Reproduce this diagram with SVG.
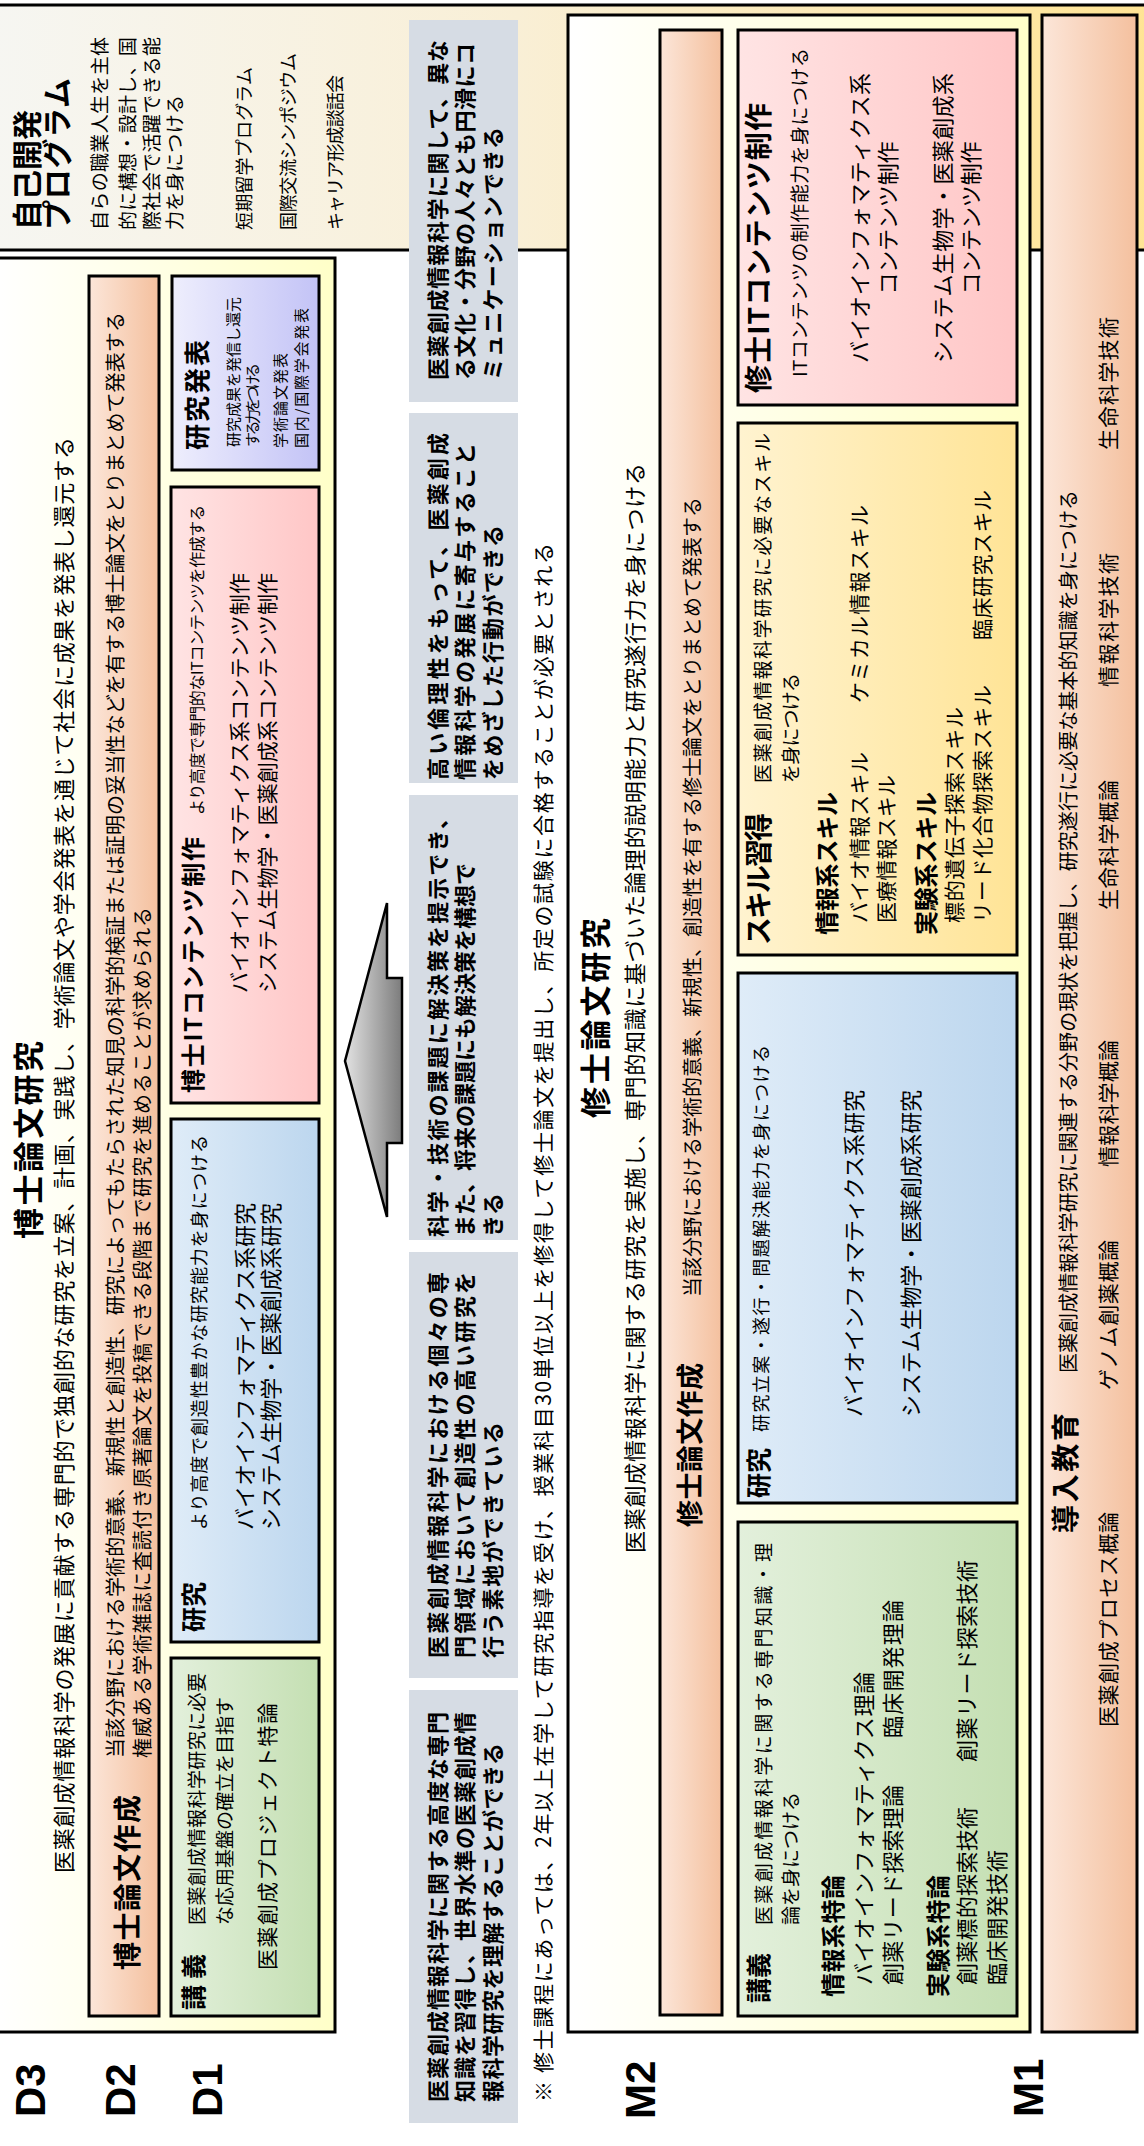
<svg xmlns="http://www.w3.org/2000/svg" width="1144" height="2146" viewBox="0 0 1144 2146">
<defs>
<linearGradient id="gOuter" x1="0" y1="0" x2="0" y2="1"><stop offset="0" stop-color="#FFFFFF"/><stop offset="1" stop-color="#FFFFC8"/></linearGradient>
<linearGradient id="gSelf" x1="0" y1="0" x2="0" y2="1"><stop offset="0" stop-color="#F6F6F2"/><stop offset="0.45" stop-color="#F9EFD6"/><stop offset="1" stop-color="#FFE494"/></linearGradient>
<linearGradient id="gOrange" x1="0" y1="0" x2="0" y2="1"><stop offset="0" stop-color="#FCE6D9"/><stop offset="1" stop-color="#F4C09E"/></linearGradient>
<linearGradient id="gGreen" x1="0" y1="0" x2="0" y2="1"><stop offset="0" stop-color="#E3F0DC"/><stop offset="1" stop-color="#C4DFB2"/></linearGradient>
<linearGradient id="gBlue" x1="0" y1="0" x2="0" y2="1"><stop offset="0" stop-color="#DFECF8"/><stop offset="1" stop-color="#BCD6EE"/></linearGradient>
<linearGradient id="gPink" x1="0" y1="0" x2="0" y2="1"><stop offset="0" stop-color="#FFE4E4"/><stop offset="1" stop-color="#FFC6C6"/></linearGradient>
<linearGradient id="gLav" x1="0" y1="0" x2="0" y2="1"><stop offset="0" stop-color="#EEEEFD"/><stop offset="1" stop-color="#C3C3F6"/></linearGradient>
<linearGradient id="gYellow" x1="0" y1="0" x2="0" y2="1"><stop offset="0" stop-color="#FFF3D0"/><stop offset="1" stop-color="#FFE496"/></linearGradient>
<linearGradient id="gArrow" x1="0" y1="0" x2="0" y2="1"><stop offset="0" stop-color="#E2E2E2"/><stop offset="1" stop-color="#7C7C7C"/></linearGradient>
<style>
.bx{stroke:#000;stroke-width:3}
.gr{fill:#D6DCE4}
text{font-family:"Noto Sans CJK JP","Noto Sans CJK SC",sans-serif;fill:#000}
.h{font-weight:bold}
.lab{font-family:"Liberation Sans",Arial,sans-serif;font-weight:bold;font-size:42px}
.s15{font-size:15px}.s16{font-size:16px}.s18{font-size:18px}.s19{font-size:19px}.s20{font-size:20px}.s21{font-size:21px}.s22{font-size:22px}
.gt{font-size:22px;font-weight:bold}
</style>
</defs>
<rect width="1144" height="2146" fill="#FFFFFF"/>
<g transform="translate(0,2146) rotate(-90)">

<g id="self-dev">
<rect class="bx" x="1896" y="-5" width="245" height="1160" fill="url(#gSelf)"/>
<text class="h" x="1916" y="38" font-size="30" textLength="120">自己開発</text>
<text class="h" x="1916" y="68" font-size="30" textLength="152">プログラム</text>
<text class="s19" x="1916" y="107" textLength="193">自らの職業人生を主体</text>
<text class="s19" x="1916" y="135" textLength="193">的に構想・設計し、国</text>
<text class="s19" x="1916" y="159" textLength="193">際社会で活躍できる能</text>
<text class="s19" x="1916" y="182" textLength="135">力を身につける</text>
<text class="s18" x="1916" y="251" textLength="163">短期留学プログラム</text>
<text class="s18" x="1916" y="295" textLength="177">国際交流シンポジウム</text>
<text class="s18" x="1916" y="342" textLength="155">キャリア形成談話会</text>
</g>

<g id="d3">
<rect class="bx" x="114" y="-5" width="1774" height="340" fill="url(#gOuter)"/>
<text class="h" x="1006" y="40" font-size="31" text-anchor="middle" textLength="198">博士論文研究</text>
<text class="s22" x="273" y="72" textLength="1436">医薬創成情報科学の発展に貢献する専門的で独創的な研究を立案、計画、実践し、学術論文や学会発表を通じて社会に成果を発表し還元する</text>
</g>

<g id="d2-thesis">
<rect class="bx" x="130" y="89" width="1740" height="70" fill="url(#gOrange)"/>
<text class="h" x="176" y="138" font-size="28" textLength="175">博士論文作成</text>
<text class="s20" x="388" y="123" textLength="1446">当該分野における学術的意義、新規性と創造性、研究によってもたらされた知見の科学的検証または証明の妥当性などを有する博士論文をとりまとめて発表する</text>
<text class="s20" x="388" y="150" textLength="851">権威ある学術雑誌に査読付き原著論文を投稿できる段階まで研究を進めることが求められる</text>
</g>

<g id="d1-lecture">
<rect class="bx" x="130" y="171" width="358" height="148" fill="url(#gGreen)"/>
<text class="h" x="136" y="203" font-size="25" textLength="56">講義</text>
<text class="s19" x="221" y="204" textLength="252">医薬創成情報科学研究に必要</text>
<text class="s19" x="221" y="232" textLength="228">な応用基盤の確立を目指す</text>
<text class="s21" x="176" y="275" textLength="267">医薬創成プロジェクト特論</text>
</g>

<g id="d1-research">
<rect class="bx" x="504" y="171" width="523" height="148" fill="url(#gBlue)"/>
<text class="h" x="514" y="203" font-size="25">研究</text>
<text class="s18" x="616" y="206" textLength="395">より高度で創造性豊かな研究能力を身につける</text>
<text class="s22" x="616" y="253" textLength="327">バイオインフォマティクス系研究</text>
<text class="s22" x="616" y="279" textLength="327">システム生物学・医薬創成系研究</text>
</g>

<g id="d1-it">
<rect class="bx" x="1043" y="171" width="616" height="148" fill="url(#gPink)"/>
<text class="h" x="1053" y="202" font-size="24" textLength="256">博士ITコンテンツ制作</text>
<text class="s16" x="1331" y="203" textLength="310">より高度で専門的なITコンテンツを作成する</text>
<text class="s21" x="1153" y="247" textLength="420">バイオインフォマティクス系コンテンツ制作</text>
<text class="s21" x="1153" y="275" textLength="420">システム生物学・医薬創成系コンテンツ制作</text>
</g>

<g id="d1-present">
<rect class="bx" x="1676" y="172" width="194" height="147" fill="url(#gLav)"/>
<text class="h" x="1696" y="207" font-size="26" textLength="110">研究発表</text>
<text class="s15" x="1699" y="239" textLength="150">研究成果を発信し還元</text>
<text class="s15" x="1699" y="258" textLength="84">する力をつける</text>
<text class="s15" x="1698" y="286" textLength="95">学術論文発表</text>
<text class="s15" x="1698" y="307" textLength="140">国内/国際学会発表</text>
</g>

<g id="labels">
<text class="lab" x="29" y="45">D3</text>
<text class="lab" x="29" y="135">D2</text>
<text class="lab" x="29" y="222">D1</text>
<text class="lab" x="27" y="655">M2</text>
<text class="lab" x="29" y="1043">M1</text>
</g>

<g id="goals">
<rect class="gr" x="23" y="409" width="433" height="109"/>
<text class="gt" x="44" y="446" textLength="390">医薬創成情報科学に関する高度な専門</text>
<text class="gt" x="44" y="473" textLength="390">知識を習得し、世界水準の医薬創成情</text>
<text class="gt" x="44" y="501" textLength="359">報科学研究を理解することができる</text>
<rect class="gr" x="468" y="409" width="426" height="109"/>
<text class="gt" x="488" y="446" textLength="386">医薬創成情報科学における個々の専</text>
<text class="gt" x="488" y="473" textLength="386">門領域において創造性の高い研究を</text>
<text class="gt" x="488" y="501" textLength="236">行う素地ができている</text>
<rect class="gr" x="906" y="409" width="445" height="109"/>
<text class="gt" x="909" y="446" textLength="430">科学・技術の課題に解決策を提示でき、</text>
<text class="gt" x="909" y="473" textLength="374">また、将来の課題にも解決策を構想で</text>
<text class="gt" x="909" y="501" textLength="44">きる</text>
<rect class="gr" x="1363" y="409" width="370" height="109"/>
<text class="gt" x="1366" y="446" textLength="347">高い倫理性をもって、医薬創成</text>
<text class="gt" x="1366" y="473" textLength="337">情報科学の発展に寄与すること</text>
<text class="gt" x="1366" y="501" textLength="255">をめざした行動ができる</text>
<rect class="gr" x="1744" y="409" width="382" height="109"/>
<text class="gt" x="1766" y="446" textLength="340">医薬創成情報科学に関して、異な</text>
<text class="gt" x="1766" y="473" textLength="337">る文化・分野の人々とも円滑にコ</text>
<text class="gt" x="1766" y="501" textLength="253">ミュニケーションできる</text>
</g>

<g id="note">
<text class="s21" x="44" y="551" textLength="1559">※ 修士課程にあっては、2年以上在学して研究指導を受け、授業科目30単位以上を修得して修士論文を提出し、所定の試験に合格することが必要とされる</text>
</g>

<g id="connectors">
<path d="M1085,345 L1243,387 L1168,387 L1168,402 L1003,402 L1003,387 L929,387 Z" fill="url(#gArrow)" stroke="#000" stroke-width="2.5" stroke-linejoin="miter"/>
</g>

<g id="m2">
<rect class="bx" x="114" y="568" width="2017" height="462" fill="url(#gOuter)"/>
<text class="h" x="1128" y="607" font-size="31" text-anchor="middle" textLength="200">修士論文研究</text>
<text class="s22" x="593" y="643" textLength="1090">医薬創成情報科学に関する研究を実施し、専門的知識に基づいた論理的説明能力と研究遂行力を身につける</text>
</g>

<g id="m2-thesis">
<rect class="bx" x="131" y="660" width="1985" height="62" fill="url(#gOrange)"/>
<text class="h" x="619" y="700" font-size="27" textLength="164">修士論文作成</text>
<text class="s20" x="849" y="700" textLength="800">当該分野における学術的意義、新規性、創造性を有する修士論文をとりまとめて発表する</text>
</g>

<g id="m-lecture">
<rect class="bx" x="130" y="738" width="494" height="279" fill="url(#gGreen)"/>
<text class="h" x="143" y="768" font-size="25">講義</text>
<text class="s19" x="221" y="771" textLength="382">医薬創成情報科学に関する専門知識・理</text>
<text class="s19" x="221" y="798" textLength="133">論を身につける</text>
<text class="h" x="149" y="842" font-size="24" textLength="122">情報系特論</text>
<text class="s22" x="161" y="872" textLength="313">バイオインフォマティクス理論</text>
<text class="s22" x="161" y="901" textLength="200">創薬リード探索理論</text>
<text class="s22" x="408" y="901" textLength="138">臨床開発理論</text>
<text class="h" x="149" y="947" font-size="24" textLength="122">実験系特論</text>
<text class="s22" x="161" y="975" textLength="178">創薬標的探索技術</text>
<text class="s22" x="384" y="975" textLength="202">創薬リード探索技術</text>
<text class="s22" x="161" y="1005" textLength="135">臨床開発技術</text>
</g>

<g id="m-research">
<rect class="bx" x="643" y="738" width="530" height="279" fill="url(#gBlue)"/>
<text class="h" x="648" y="768" font-size="25">研究</text>
<text class="s18" x="714" y="768" textLength="387">研究立案・遂行・問題解決能力を身につける</text>
<text class="s22" x="729" y="862" textLength="327">バイオインフォマティクス系研究</text>
<text class="s22" x="729" y="919" textLength="327">システム生物学・医薬創成系研究</text>
</g>

<g id="m-skill">
<rect class="bx" x="1191" y="738" width="532" height="279" fill="url(#gYellow)"/>
<text class="h" x="1201" y="769" font-size="28" textLength="132">スキル習得</text>
<text class="s19" x="1363" y="770" textLength="350">医薬創成情報科学研究に必要なスキル</text>
<text class="s19" x="1363" y="798" textLength="110">を身につける</text>
<text class="h" x="1211" y="836" font-size="24" textLength="143">情報系スキル</text>
<text class="s21" x="1223" y="867" textLength="171">バイオ情報スキル</text>
<text class="s21" x="1443" y="867" textLength="198">ケミカル情報スキル</text>
<text class="s21" x="1223" y="894" textLength="148">医療情報スキル</text>
<text class="h" x="1211" y="935" font-size="24" textLength="143">実験系スキル</text>
<text class="s21" x="1223" y="962" textLength="216">標的遺伝子探索スキル</text>
<text class="s21" x="1223" y="990" textLength="238">リード化合物探索スキル</text>
<text class="s21" x="1506" y="990" textLength="150">臨床研究スキル</text>
</g>

<g id="m-it">
<rect class="bx" x="1741" y="738" width="375" height="279" fill="url(#gPink)"/>
<text class="h" x="1753" y="769" font-size="28" textLength="290">修士ITコンテンツ制作</text>
<text class="s19" x="1769" y="807" textLength="329">ITコンテンツの制作能力を身につける</text>
<text class="s22" x="1928" y="868" text-anchor="middle" textLength="290">バイオインフォマティクス系</text>
<text class="s22" x="1928" y="896" text-anchor="middle" textLength="153">コンテンツ制作</text>
<text class="s22" x="1928" y="951" text-anchor="middle" textLength="290">システム生物学・医薬創成系</text>
<text class="s22" x="1928" y="979" text-anchor="middle" textLength="153">コンテンツ制作</text>
</g>

<g id="m1">
<rect class="bx" x="114" y="1042" width="2017" height="95" fill="url(#gOrange)"/>
<text class="h" x="613" y="1076" font-size="28" textLength="120">導入教育</text>
<text class="s20" x="773" y="1076" textLength="883">医薬創成情報科学研究に関連する分野の現状を把握し、研究遂行に必要な基本的知識を身につける</text>
<text class="s21" x="419" y="1116" textLength="215">医薬創成プロセス概論</text>
<text class="s21" x="756" y="1116" textLength="150">ゲノム創薬概論</text>
<text class="s21" x="979" y="1116" textLength="127">情報科学概論</text>
<text class="s21" x="1236" y="1116" textLength="130">生命科学概論</text>
<text class="s21" x="1459" y="1116" textLength="134">情報科学技術</text>
<text class="s21" x="1696" y="1116" textLength="133">生命科学技術</text>
</g>

</g>
</svg>
